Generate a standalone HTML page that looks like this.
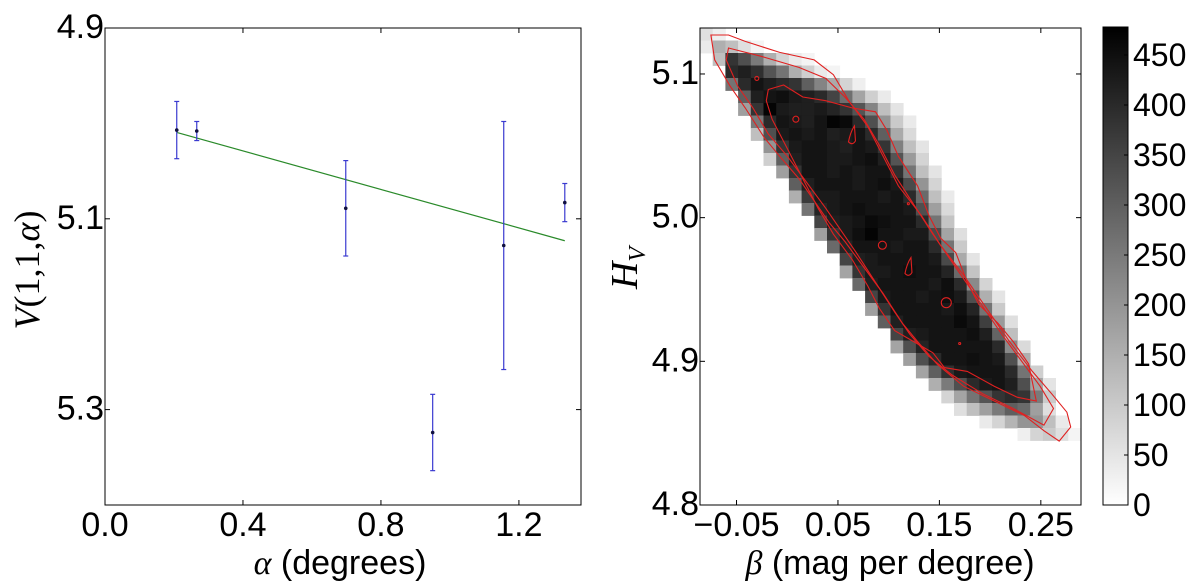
<!DOCTYPE html>
<html><head><meta charset="utf-8"><style>
html,body{margin:0;padding:0;background:#fff;}
svg{display:block;font-family:"Liberation Sans","DejaVu Sans",sans-serif;}
</style></head><body>
<svg id="fig" width="1200" height="582" viewBox="0 0 1200 582" xmlns="http://www.w3.org/2000/svg">
<g id="left"></g>
<g id="right"></g>
<g id="cbar"></g>
</svg>
<script>
// ---- left panel data ----
const alphaVals = [0.208, 0.266, 0.698, 0.950, 1.156, 1.333];
const magVals = [5.007, 5.008, 5.089, 5.324, 5.128, 5.083];
const magErr = [0.030, 0.010, 0.050, 0.040, 0.130, 0.020];
const fitX = [0.208, 1.333];
const fitY = [5.0095, 5.123];
const leftXTicks = [0.0, 0.4, 0.8, 1.2];
const leftXTickLabels = ["0.0", "0.4", "0.8", "1.2"];
const leftYTicks = [4.9, 5.1, 5.3];
const leftYTickLabels = ["4.9", "5.1", "5.3"];
// ---- right panel data ----
const heatRowStart = [0,0,1,2,2,3,3,4,4,5,5,6,7,7,8,9,9,10,11,11,12,13,13,14,15,15,16,17,18,19,20,22,25];
const heatRows = [
[60,30],
[40,150,120,60,20],
[120,380,330,250,150,80,40,20],
[400,420,390,320,260,150,90,40,20],
[260,400,440,420,400,380,300,230,160,80,30],
[300,420,440,450,430,420,400,350,270,170,90,40],
[180,380,470,430,420,420,430,410,380,320,230,120,50],
[250,400,440,430,420,440,470,460,400,330,200,100,40],
[120,330,430,440,430,440,420,430,440,400,300,160,70],
[200,380,430,440,440,430,420,440,430,380,240,120,50],
[90,300,420,440,440,430,430,440,450,420,320,190,80],
[180,380,440,440,430,440,430,440,440,390,260,120,50],
[300,420,440,440,440,430,440,450,430,340,200,80],
[150,370,430,430,440,440,440,430,440,400,280,120,40],
[260,410,430,440,450,440,440,440,430,330,180,70],
[350,420,430,440,460,450,440,440,400,260,110],
[180,380,430,450,470,440,440,430,430,340,170,60],
[280,410,440,440,440,430,440,440,400,260,100],
[350,420,430,440,440,440,440,430,340,160,50],
[170,380,430,430,440,450,440,440,410,280,110],
[280,420,440,440,440,440,430,450,400,220,80],
[350,430,440,440,430,440,450,430,330,150,50],
[180,380,440,440,440,440,430,450,410,260,100],
[300,420,440,440,440,440,460,440,360,190,60],
[350,420,430,440,440,440,450,420,290,120],
[170,330,410,440,440,440,440,440,400,220,70],
[180,330,400,440,440,450,440,430,330,150],
[170,300,390,430,440,440,440,400,260,90],
[150,250,330,400,430,440,420,330,170,50],
[80,170,260,320,380,400,380,250,100],
[60,120,180,250,300,280,180,60],
[40,80,140,200,200,120,40],
[30,80,100,60,20]
];
const outerBeta = [-0.0753,-0.0715,-0.0564,-0.0413,-0.0225,-0.0074,0.0115,0.0266,0.0417,0.0568,0.0757,0.0945,0.1134,0.1285,0.1474,0.1738,0.2040,0.2342,0.2530,0.2681,0.2794,0.2757,0.2606,0.2417,0.2191,0.1964,0.1738,0.1511,0.1323,0.1096,0.0945,0.0794,0.0606,0.0455,0.0266,-0.0074,-0.0413,-0.0579];
const outerH = [5.1271,5.1098,5.0917,5.0763,5.0556,5.0427,5.0272,5.0117,4.9963,4.9834,4.9653,4.9472,4.9266,4.9137,4.8982,4.8827,4.8724,4.8621,4.8517,4.8445,4.8543,4.8646,4.8775,4.8930,4.9137,4.9369,4.9601,4.9808,5.0014,5.0221,5.0427,5.0634,5.0814,5.0995,5.1098,5.1150,5.1227,5.1271];
const midBeta = [-0.0579,-0.0602,-0.0489,-0.0338,-0.0187,0.0002,0.0191,0.0379,0.0530,0.0681,0.0870,0.1058,0.1209,0.1398,0.1625,0.1926,0.2228,0.2530,0.2625,0.2493,0.2304,0.2115,0.1889,0.1662,0.1436,0.1247,0.1058,0.0908,0.0757,0.0568,0.0379,0.0115,-0.0262];
const midH = [5.1181,5.1098,5.0917,5.0763,5.0582,5.0427,5.0246,5.0066,4.9911,4.9756,4.9550,4.9343,4.9188,4.9034,4.8905,4.8775,4.8672,4.8556,4.8672,4.8827,4.9008,4.9188,4.9421,4.9653,4.9885,5.0092,5.0298,5.0505,5.0685,5.0840,5.0969,5.1046,5.1124];
const innerBeta = [-0.0187,-0.0036,0.0153,0.0379,0.0643,0.0870,0.0983,0.1096,0.1285,0.1398,0.1511,0.1662,0.1775,0.1889,0.2077,0.2228,0.2379,0.2455,0.2266,0.2040,0.1775,0.1549,0.1436,0.1247,0.1058,0.0908,0.0794,0.0643,0.0455,0.0304,0.0153,0.0002,-0.0149,-0.0206];
const innerH = [5.0892,5.0923,5.0840,5.0814,5.0763,5.0737,5.0608,5.0427,5.0221,5.0014,4.9859,4.9756,4.9550,4.9395,4.9266,4.9137,4.8982,4.8724,4.8750,4.8827,4.8930,4.8956,4.9059,4.9137,4.9214,4.9369,4.9524,4.9705,4.9885,5.0066,5.0272,5.0479,5.0685,5.0814];
const islandBeta = [-0.030, 0.0085, 0.0938, 0.1568, 0.1194, 0.1700];
const islandH = [5.0969, 5.0685, 4.9808, 4.9408, 5.0097, 4.9124];
const islandR = [2, 3, 4, 5, 1, 1];
const dropBeta = [0.0643, 0.1200];
const dropH = [5.0569, 4.9653];
const rightXTicks = [-0.05, 0.05, 0.15, 0.25];
const rightXTickLabels = ["\u22120.05", "0.05", "0.15", "0.25"];
const rightYTicks = [4.8, 4.9, 5.0, 5.1];
const rightYTickLabels = ["4.8", "4.9", "5.0", "5.1"];
const cbarTicks = [0,50,100,150,200,250,300,350,400,450];
const cbarMax = 478;

const NS = "http://www.w3.org/2000/svg";
function mk(parent, tag, attrs, text){
  const e = document.createElementNS(NS, tag);
  for (const k in attrs) e.setAttribute(k, attrs[k]);
  if (text !== undefined) e.textContent = text;
  parent.appendChild(e); return e;
}
const TICKFS = 34;
// ---------- LEFT ----------
const L = document.getElementById('left');
const lx0=105, lx1=581, ly0=28, ly1=505;
const lxs = v => lx0 + (v-0)/(1.38-0)*(lx1-lx0);
const lys = v => ly0 + (v-4.9)/(5.4-4.9)*(ly1-ly0);
let frame = mk(L,'rect',{x:lx0,y:ly0,width:lx1-lx0,height:ly1-ly0,fill:'none',stroke:'#000','stroke-width':1});


leftXTicks.forEach((t,i)=>{
  const x=lxs(t);
  mk(L,'line',{x1:x,y1:ly1,x2:x,y2:ly1-5,stroke:'#000'});
  mk(L,'line',{x1:x,y1:ly0,x2:x,y2:ly0+5,stroke:'#000'});
  const tx=mk(L,'text',{x:x,y:536,'font-size':TICKFS,'text-anchor':'middle'},leftXTickLabels[i]);
  
  
});
leftYTicks.forEach((t,i)=>{
  const y=lys(t);
  mk(L,'line',{x1:lx0,y1:y,x2:lx0+5,y2:y,stroke:'#000'});
  mk(L,'line',{x1:lx1,y1:y,x2:lx1-5,y2:y,stroke:'#000'});
  const tx=mk(L,'text',{x:104,y:y+10,'font-size':TICKFS,'text-anchor':'end'},leftYTickLabels[i]);
  
  
});
let fit = mk(L,'line',{x1:lxs(fitX[0]),y1:lys(fitY[0]),x2:lxs(fitX[1]),y2:lys(fitY[1]),stroke:'#2a8a2a','stroke-width':1.2});


alphaVals.forEach((a,i)=>{
  const x=lxs(a), y=lys(magVals[i]), yt=lys(magVals[i]-magErr[i]), yb=lys(magVals[i]+magErr[i]);
  const g=mk(L,'g',{});
  
  
  mk(g,'line',{x1:x,y1:yt,x2:x,y2:yb,stroke:'#3a3ad0','stroke-width':1.2});
  mk(g,'line',{x1:x-2.5,y1:yt,x2:x+2.5,y2:yt,stroke:'#3a3ad0','stroke-width':1.2});
  mk(g,'line',{x1:x-2.5,y1:yb,x2:x+2.5,y2:yb,stroke:'#3a3ad0','stroke-width':1.2});
  mk(g,'circle',{cx:x,cy:y,r:1.8,fill:'#101040'});
});
let xl = mk(L,'text',{x:340,y:574,'font-size':34,'text-anchor':'middle'});


mk(xl,'tspan',{'font-family':'Liberation Serif, serif','font-style':'italic'},'\u03b1');
mk(xl,'tspan',{},' (degrees)');
let yl = mk(L,'text',{x:0,y:0,'font-size':36,'text-anchor':'middle','font-family':'Liberation Serif, serif',transform:'translate(39,270) rotate(-90)'});


mk(yl,'tspan',{'font-style':'italic'},'V');
mk(yl,'tspan',{},'(1,1,');
mk(yl,'tspan',{'font-style':'italic'},'\u03b1');
mk(yl,'tspan',{},')');

// ---------- RIGHT ----------
const R = document.getElementById('right');
const rx0=700, rx1=1081, ry0=28, ry1=505;
const bMin=-0.086, bMax=0.2896, hMin=4.8, hMax=5.132;
const rxs = v => rx0 + (v-bMin)/(bMax-bMin)*(rx1-rx0);
const rys = v => ry1 - (v-hMin)/(hMax-hMin)*(ry1-ry0);
const cellB=(bMax-bMin)/30, cellH=0.0087;
const gray = v => { const c=Math.round(255*(1-Math.min(v,cbarMax)/cbarMax)); return `rgb(${c},${c},${c})`; };
heatRows.forEach((row,r)=>{
  row.forEach((v,j)=>{
    const c=heatRowStart[r]+j;
    const b0=bMin+c*cellB, h0=hMax-r*cellH;
    const x=rxs(b0), y=rys(h0);
    const cell=mk(R,'rect',{x:x,y:y,width:rxs(b0+cellB)-x+0.4,height:rys(h0-cellH)-y+0.4,fill:gray(v)});
    
    
  });
});
function contour(bs,hs,name){
  const d=bs.map((b,i)=>(i?'L':'M')+rxs(b).toFixed(1)+','+rys(hs[i]).toFixed(1)).join('')+'Z';
  const p=mk(R,'path',{d:d,fill:'none',stroke:'#e02020','stroke-width':1.1});
  
  
}
contour(outerBeta,outerH,'contour-outer');
contour(midBeta,midH,'contour-middle');
contour(innerBeta,innerH,'contour-inner');
islandBeta.forEach((b,i)=>{
  const c=mk(R,'circle',{cx:rxs(b),cy:rys(islandH[i]),r:islandR[i],fill:'none',stroke:'#e02020','stroke-width':1.1});
  
  
});
dropBeta.forEach((b,i)=>{
  const x=rxs(b), y=rys(dropH[i]);
  const p=mk(R,'path',{d:`M${x-4},${y+6} Q${x},${y+10} ${x+3},${y+5} L${x+2},${y-10} Q${x-2},${y-4} ${x-4},${y+6}Z`,fill:'none',stroke:'#e02020','stroke-width':1.1});
  
  
});
let rframe=mk(R,'rect',{x:rx0,y:ry0,width:rx1-rx0,height:ry1-ry0,fill:'none',stroke:'#000','stroke-width':1});


rightXTicks.forEach((t,i)=>{
  const x=rxs(t);
  mk(R,'line',{x1:x,y1:ry1,x2:x,y2:ry1-5,stroke:'#000'});
  mk(R,'line',{x1:x,y1:ry0,x2:x,y2:ry0+5,stroke:'#000'});
  const tx=mk(R,'text',{x:x,y:536,'font-size':TICKFS,'text-anchor':'middle'},rightXTickLabels[i]);
  
  
});
rightYTicks.forEach((t,i)=>{
  const y=rys(t);
  mk(R,'line',{x1:rx0,y1:y,x2:rx0+5,y2:y,stroke:'#000'});
  mk(R,'line',{x1:rx1,y1:y,x2:rx1-5,y2:y,stroke:'#000'});
  const tx=mk(R,'text',{x:699,y:y+10,'font-size':TICKFS,'text-anchor':'end'},rightYTickLabels[i]);
  
  
});
let rxl=mk(R,'text',{x:890,y:574,'font-size':34,'text-anchor':'middle'});


mk(rxl,'tspan',{'font-family':'Liberation Serif, serif','font-style':'italic'},'\u03b2');
mk(rxl,'tspan',{},' (mag per degree)');
let ryl=mk(R,'text',{x:0,y:0,'font-size':38,'font-family':'Liberation Serif, serif','font-style':'italic','text-anchor':'middle',transform:'translate(637,268) rotate(-90)'});


mk(ryl,'tspan',{},'H');
mk(ryl,'tspan',{'font-size':24,dy:8},'V');

// ---------- COLORBAR ----------
const C=document.getElementById('cbar');
const cx0=1103, cx1=1128, cy0=27, cy1=505;
const cys = v => cy1 - v/cbarMax*(cy1-cy0);
const defs=mk(C,'defs',{});
const lg=mk(defs,'linearGradient',{id:'cg',x1:0,y1:1,x2:0,y2:0});
mk(lg,'stop',{offset:0,'stop-color':'#fff'});
mk(lg,'stop',{offset:1,'stop-color':'#000'});
let cb=mk(C,'rect',{x:cx0,y:cy0,width:cx1-cx0,height:cy1-cy0,fill:'url(#cg)',stroke:'#000','stroke-width':1});


cbarTicks.forEach(t=>{
  const y=cys(t);
  mk(C,'line',{x1:cx1,y1:y,x2:cx1-4,y2:y,stroke:'#000'});
  const tx=mk(C,'text',{x:1133,y:y+11,'font-size':32},String(t));
  
  
});
</script>
</body></html>
